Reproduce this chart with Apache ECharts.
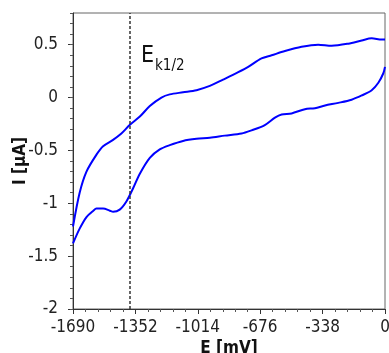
<!DOCTYPE html>
<html>
<head>
<meta charset="utf-8">
<script src="https://cdn.jsdelivr.net/npm/echarts@6/dist/echarts.min.js"></script>
<style>
html,body{margin:0;padding:0;background:#fff;}
#chart{width:389px;height:353px;}
</style>
</head>
<body>
<div id="chart"></div>
<script>
// Scan 1 (upper branch): potential E [mV] and current I [µA]
const upperE = [-1690,-1654,-1617,-1563,-1527,-1473,-1428,-1383,-1328,-1274,-1211,-1166,-1094,-1021,-949,-877,-795,-741,-669,-614,-542,-452,-362,-289,-199,-126,-72,-18,0];
const upperI = [-1.22,-0.90,-0.70,-0.54,-0.46,-0.40,-0.34,-0.26,-0.18,-0.08,0.00,0.03,0.05,0.07,0.11,0.17,0.24,0.29,0.37,0.40,0.44,0.48,0.50,0.49,0.51,0.54,0.56,0.55,0.55];
// Scan 2 (lower branch)
const lowerE = [-1690,-1654,-1617,-1580,-1563,-1527,-1490,-1473,-1437,-1400,-1365,-1328,-1274,-1220,-1166,-1094,-1021,-949,-868,-777,-723,-651,-596,-560,-506,-434,-380,-325,-253,-181,-126,-72,-36,-9,0];
const lowerI = [-1.38,-1.24,-1.13,-1.07,-1.05,-1.05,-1.07,-1.08,-1.06,-0.98,-0.86,-0.72,-0.57,-0.49,-0.45,-0.41,-0.39,-0.38,-0.36,-0.34,-0.31,-0.26,-0.19,-0.16,-0.15,-0.11,-0.10,-0.075,-0.05,-0.02,0.02,0.07,0.14,0.23,0.29];
// Half-wave potential marker
const ekHalf = -1383;
// Tick values / labels
const xTicks = [-1690,-1352,-1014,-676,-338,0];
const xTickLabels = ['-1690','-1352','-1014','-676','-338','0'];
const yTicks = [-2,-1.5,-1,-0.5,0,0.5];
const yTickLabels = ['-2','-1.5','-1','-0.5','0','0.5'];

const FONT = '"DejaVu Sans Condensed", "DejaVu Sans", sans-serif';

function pairs(xs, ys){ return xs.map((x,i)=>[x, ys[i]]); }
function lbl(vals, labels){ return v => { const i = vals.findIndex(t => Math.abs(t - v) < 1e-6); return i >= 0 ? labels[i] : ''; }; }

const chart = echarts.init(document.getElementById('chart'), null, {renderer:'canvas'});
chart.setOption({
  animation:false,
  backgroundColor:'#fff',
  grid:{left:73, right:4, top:13, bottom:44, show:true, borderColor:'#666', borderWidth:1, containLabel:false, outerBoundsMode:'none'},
  xAxis:{
    type:'value', min:-1690, max:0, interval:338,
    name:'E [mV]', nameLocation:'middle', nameGap:31, nameMoveOverlap:false,
    nameTextStyle:{fontFamily:FONT, fontWeight:'bold', fontSize:17, color:'#111'},
    axisLine:{show:true, onZero:false, lineStyle:{color:'#333', width:1}},
    axisTick:{show:true, length:5, lineStyle:{color:'#333'}},
    minorTick:{show:true, splitNumber:5, length:3, lineStyle:{color:'#555'}},
    axisLabel:{fontFamily:FONT, fontSize:17, color:'#222', margin:10, formatter:lbl(xTicks, xTickLabels)},
    splitLine:{show:false}
  },
  yAxis:[{
    type:'value', min:-2, max:0.8, interval:0.5,
    name:'I [µA]', nameLocation:'middle', nameGap:44, nameMoveOverlap:false,
    nameTextStyle:{fontFamily:FONT, fontWeight:'bold', fontSize:17, color:'#111'},
    axisLine:{show:true, onZero:false, lineStyle:{color:'#333', width:1}},
    axisTick:{show:true, length:5, lineStyle:{color:'#333'}, customValues:yTicks},
    axisLabel:{fontFamily:FONT, fontSize:17, color:'#222', margin:15, customValues:yTicks, formatter:lbl(yTicks, yTickLabels)},
    splitLine:{show:false}
  },{
    type:'value', min:-2, max:0.8, interval:0.1, position:'left',
    axisLine:{show:false, onZero:false},
    axisTick:{show:true, length:3, lineStyle:{color:'#555'}},
    axisLabel:{show:false},
    splitLine:{show:false}
  }],
  series:[{
    type:'line', data:pairs(upperE, upperI), showSymbol:false, smooth:0.3,
    lineStyle:{color:'#0000ff', width:2}, itemStyle:{color:'#0000ff'}
  },{
    type:'line', data:pairs(lowerE, lowerI), showSymbol:false, smooth:0.3,
    lineStyle:{color:'#0000ff', width:2}, itemStyle:{color:'#0000ff'},
    markLine:{silent:true, symbol:'none', label:{show:false},
      lineStyle:{color:'#333', width:1.5, type:[3,2]},
      data:[{xAxis:ekHalf}]}
  }],
  graphic:[
    {type:'text', left:141, top:45, style:{text:'E', font:'23px '+FONT, fill:'#111'}},
    {type:'text', left:155, top:59, style:{text:'k1/2', font:'15px '+FONT, fill:'#111'}}
  ]
});
</script>
</body>
</html>
